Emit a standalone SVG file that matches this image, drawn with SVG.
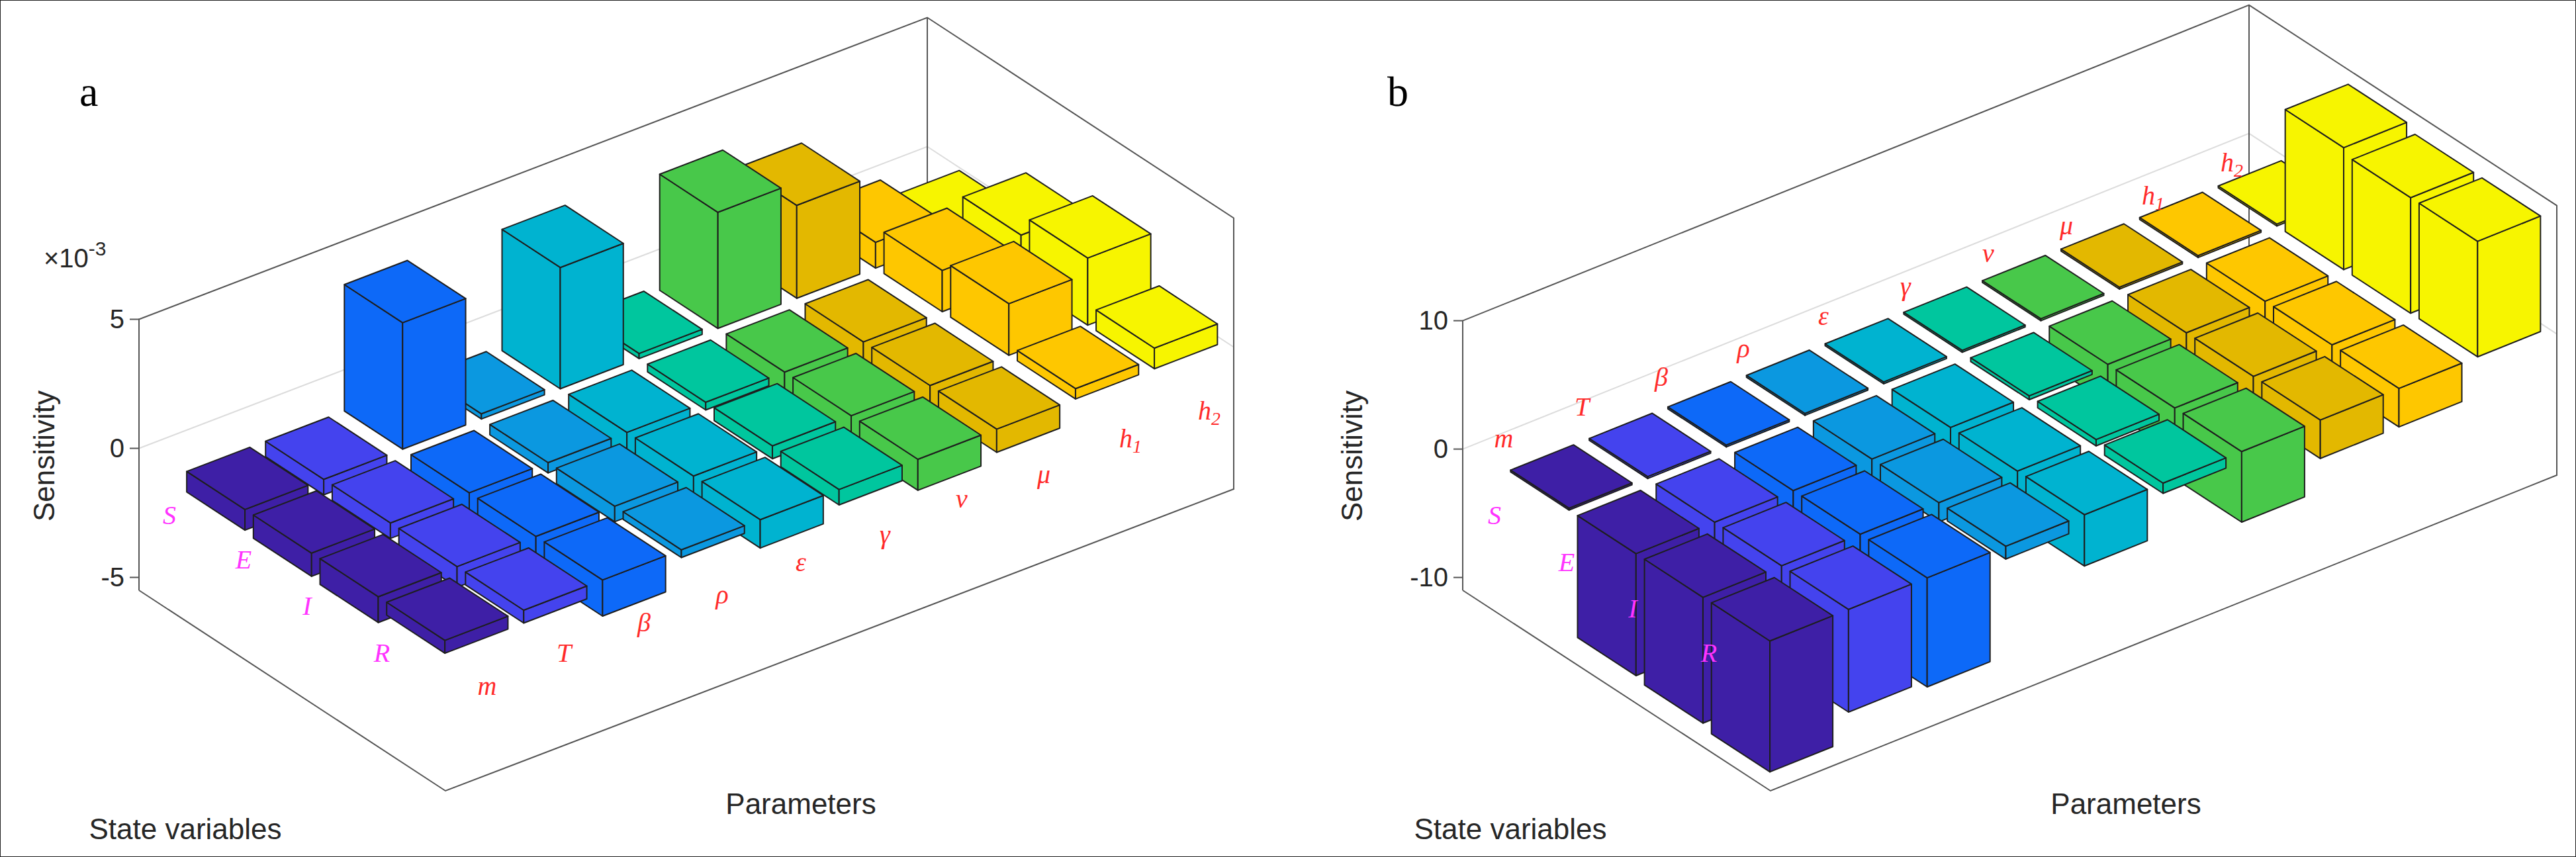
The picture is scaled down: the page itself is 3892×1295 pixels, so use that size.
<svg xmlns="http://www.w3.org/2000/svg" width="3892" height="1295" viewBox="0 0 3892 1295">
<style>
rect{stroke:#1e1e1e;stroke-width:2;vector-effect:non-scaling-stroke;stroke-linejoin:round}
.c0{fill:#3e1fa6}.c1{fill:#4443ee}.c2{fill:#0d69f8}.c3{fill:#0b98e0}.c4{fill:#00b3d0}.c5{fill:#00c69e}.c6{fill:#48c84a}.c7{fill:#e3b800}.c8{fill:#fec700}.c9{fill:#f7f500}
.ax{stroke:#555;stroke-width:2;fill:none}
.gr{stroke:#dcdcdc;stroke-width:2;fill:none}
.tk{font-family:"Liberation Sans",Arial,sans-serif;font-size:40px;fill:#262626}
.lab{font-family:"Liberation Sans",Arial,sans-serif;font-size:44px;fill:#262626}
.pl{font-family:"Liberation Serif","Times New Roman",serif;font-style:italic;font-size:40px;fill:#ff2a2a;text-anchor:middle}
.sl{font-family:"Liberation Serif","Times New Roman",serif;font-style:italic;font-size:40px;fill:#ff33ff;text-anchor:middle}
.pn{font-family:"Liberation Serif","Times New Roman",serif;font-size:64px;fill:#000}
</style>
<rect x="0" y="0" width="3892" height="1295" fill="#fff" stroke="none"/>
<g id="panel-a">
<text class="pn" x="120" y="160">a</text>
<g id="axes-a">
<polyline class="gr" points="210,677.5 1401,221.5 1864,524.5"/>
<polyline class="ax" points="210,892 210,482.5 1401,26.5 1864,329.5 1864,739 673,1195 210,892"/>
<line class="ax" x1="1401" y1="26.5" x2="1401" y2="436"/>
<line class="ax" x1="196" y1="482.5" x2="210" y2="482.5"/><line class="ax" x1="196" y1="677.5" x2="210" y2="677.5"/><line class="ax" x1="196" y1="872.5" x2="210" y2="872.5"/>
<text class="tk" x="188" y="496" text-anchor="end">5</text>
<text class="tk" x="188" y="691" text-anchor="end">0</text>
<text class="tk" x="188" y="886" text-anchor="end">-5</text>
<text class="tk" x="66" y="404">×10<tspan font-size="30" dy="-18">-3</tspan></text>
<text class="lab" transform="translate(82,689) rotate(-90)" text-anchor="middle">Sensitivity</text>
<text class="lab" x="280" y="1268" text-anchor="middle">State variables</text>
<text class="lab" x="1210" y="1230" text-anchor="middle">Parameters</text>
</g>
<g id="bars-a" transform="translate(210,677.5)">
<g class="c9"><rect transform="matrix(115.75,75.75,0,-39,1083.81,-414.96)" x="0.52" y="0" width=".76" height=".2"/><rect transform="matrix(119.1,-45.6,0,-39,148.16,96.96)" x="9.1" y="0" width=".8" height=".2"/><rect transform="matrix(119.1,-45.6,115.75,75.75,0,-7.8)" x="9.1" y="0.52" width=".8" height=".76"/></g>
<g class="c8"><rect transform="matrix(115.75,75.75,0,-39,964.71,-369.36)" x="0.52" y="0" width=".76" height="1"/><rect transform="matrix(119.1,-45.6,0,-39,148.16,96.96)" x="8.1" y="0" width=".8" height="1"/><rect transform="matrix(119.1,-45.6,115.75,75.75,0,-39)" x="8.1" y="0.52" width=".8" height=".76"/></g>
<g class="c9"><rect transform="matrix(115.75,75.75,0,-39,1083.81,-414.96)" x="1.39" y="0" width=".76" height="1.8"/><rect transform="matrix(119.1,-45.6,0,-39,248.86,162.86)" x="9.1" y="0" width=".8" height="1.8"/><rect transform="matrix(119.1,-45.6,115.75,75.75,0,-70.2)" x="9.1" y="1.39" width=".8" height=".76"/></g>
<g class="c7"><rect transform="matrix(115.75,75.75,0,-39,845.61,-323.76)" x="0.52" y="0" width=".76" height="3.6"/><rect transform="matrix(119.1,-45.6,0,-39,148.16,96.96)" x="7.1" y="0" width=".8" height="3.6"/><rect transform="matrix(119.1,-45.6,115.75,75.75,0,-140.4)" x="7.1" y="0.52" width=".8" height=".76"/></g>
<g class="c8"><rect transform="matrix(115.75,75.75,0,-39,964.71,-369.36)" x="1.39" y="0" width=".76" height="1.6"/><rect transform="matrix(119.1,-45.6,0,-39,248.86,162.86)" x="8.1" y="0" width=".8" height="1.6"/><rect transform="matrix(119.1,-45.6,115.75,75.75,0,-62.4)" x="8.1" y="1.39" width=".8" height=".76"/></g>
<g class="c9"><rect transform="matrix(115.75,75.75,0,-39,1083.81,-414.96)" x="2.26" y="0" width=".76" height="2.6"/><rect transform="matrix(119.1,-45.6,0,-39,349.57,228.77)" x="9.1" y="0" width=".8" height="2.6"/><rect transform="matrix(119.1,-45.6,115.75,75.75,0,-101.4)" x="9.1" y="2.26" width=".8" height=".76"/></g>
<g class="c6"><rect transform="matrix(115.75,75.75,0,-39,726.51,-278.16)" x="0.52" y="0" width=".76" height="4.5"/><rect transform="matrix(119.1,-45.6,0,-39,148.16,96.96)" x="6.1" y="0" width=".8" height="4.5"/><rect transform="matrix(119.1,-45.6,115.75,75.75,0,-175.5)" x="6.1" y="0.52" width=".8" height=".76"/></g>
<g class="c7"><rect transform="matrix(115.75,75.75,0,-39,845.61,-323.76)" x="1.39" y="-1.3" width=".76" height="1.3"/><rect transform="matrix(119.1,-45.6,0,-39,248.86,162.86)" x="7.1" y="-1.3" width=".8" height="1.3"/><rect transform="matrix(119.1,-45.6,115.75,75.75,0,0)" x="7.1" y="1.39" width=".8" height=".76"/></g>
<g class="c8"><rect transform="matrix(115.75,75.75,0,-39,964.71,-369.36)" x="2.26" y="0" width=".76" height="2"/><rect transform="matrix(119.1,-45.6,0,-39,349.57,228.77)" x="8.1" y="0" width=".8" height="2"/><rect transform="matrix(119.1,-45.6,115.75,75.75,0,-78)" x="8.1" y="2.26" width=".8" height=".76"/></g>
<g class="c9"><rect transform="matrix(115.75,75.75,0,-39,1083.81,-414.96)" x="3.13" y="0" width=".76" height=".8"/><rect transform="matrix(119.1,-45.6,0,-39,450.27,294.67)" x="9.1" y="0" width=".8" height=".8"/><rect transform="matrix(119.1,-45.6,115.75,75.75,0,-31.2)" x="9.1" y="3.13" width=".8" height=".76"/></g>
<g class="c5"><rect transform="matrix(115.75,75.75,0,-39,607.41,-232.56)" x="0.52" y="0" width=".76" height=".2"/><rect transform="matrix(119.1,-45.6,0,-39,148.16,96.96)" x="5.1" y="0" width=".8" height=".2"/><rect transform="matrix(119.1,-45.6,115.75,75.75,0,-7.8)" x="5.1" y="0.52" width=".8" height=".76"/></g>
<g class="c6"><rect transform="matrix(115.75,75.75,0,-39,726.51,-278.16)" x="1.39" y="-1.4" width=".76" height="1.4"/><rect transform="matrix(119.1,-45.6,0,-39,248.86,162.86)" x="6.1" y="-1.4" width=".8" height="1.4"/><rect transform="matrix(119.1,-45.6,115.75,75.75,0,0)" x="6.1" y="1.39" width=".8" height=".76"/></g>
<g class="c7"><rect transform="matrix(115.75,75.75,0,-39,845.61,-323.76)" x="2.26" y="-1.2" width=".76" height="1.2"/><rect transform="matrix(119.1,-45.6,0,-39,349.57,228.77)" x="7.1" y="-1.2" width=".8" height="1.2"/><rect transform="matrix(119.1,-45.6,115.75,75.75,0,0)" x="7.1" y="2.26" width=".8" height=".76"/></g>
<g class="c8"><rect transform="matrix(115.75,75.75,0,-39,964.71,-369.36)" x="3.13" y="0" width=".76" height=".4"/><rect transform="matrix(119.1,-45.6,0,-39,450.27,294.67)" x="8.1" y="0" width=".8" height=".4"/><rect transform="matrix(119.1,-45.6,115.75,75.75,0,-15.6)" x="8.1" y="3.13" width=".8" height=".76"/></g>
<g class="c4"><rect transform="matrix(115.75,75.75,0,-39,488.31,-186.96)" x="0.52" y="0" width=".76" height="4.7"/><rect transform="matrix(119.1,-45.6,0,-39,148.16,96.96)" x="4.1" y="0" width=".8" height="4.7"/><rect transform="matrix(119.1,-45.6,115.75,75.75,0,-183.3)" x="4.1" y="0.52" width=".8" height=".76"/></g>
<g class="c5"><rect transform="matrix(115.75,75.75,0,-39,607.41,-232.56)" x="1.39" y="-.3" width=".76" height=".3"/><rect transform="matrix(119.1,-45.6,0,-39,248.86,162.86)" x="5.1" y="-.3" width=".8" height=".3"/><rect transform="matrix(119.1,-45.6,115.75,75.75,0,0)" x="5.1" y="1.39" width=".8" height=".76"/></g>
<g class="c6"><rect transform="matrix(115.75,75.75,0,-39,726.51,-278.16)" x="2.26" y="-1.4" width=".76" height="1.4"/><rect transform="matrix(119.1,-45.6,0,-39,349.57,228.77)" x="6.1" y="-1.4" width=".8" height="1.4"/><rect transform="matrix(119.1,-45.6,115.75,75.75,0,0)" x="6.1" y="2.26" width=".8" height=".76"/></g>
<g class="c7"><rect transform="matrix(115.75,75.75,0,-39,845.61,-323.76)" x="3.13" y="-.9" width=".76" height=".9"/><rect transform="matrix(119.1,-45.6,0,-39,450.27,294.67)" x="7.1" y="-.9" width=".8" height=".9"/><rect transform="matrix(119.1,-45.6,115.75,75.75,0,0)" x="7.1" y="3.13" width=".8" height=".76"/></g>
<g class="c3"><rect transform="matrix(115.75,75.75,0,-39,369.21,-141.36)" x="0.52" y="0" width=".76" height=".2"/><rect transform="matrix(119.1,-45.6,0,-39,148.16,96.96)" x="3.1" y="0" width=".8" height=".2"/><rect transform="matrix(119.1,-45.6,115.75,75.75,0,-7.8)" x="3.1" y="0.52" width=".8" height=".76"/></g>
<g class="c4"><rect transform="matrix(115.75,75.75,0,-39,488.31,-186.96)" x="1.39" y="-1.2" width=".76" height="1.2"/><rect transform="matrix(119.1,-45.6,0,-39,248.86,162.86)" x="4.1" y="-1.2" width=".8" height="1.2"/><rect transform="matrix(119.1,-45.6,115.75,75.75,0,0)" x="4.1" y="1.39" width=".8" height=".76"/></g>
<g class="c5"><rect transform="matrix(115.75,75.75,0,-39,607.41,-232.56)" x="2.26" y="-.5" width=".76" height=".5"/><rect transform="matrix(119.1,-45.6,0,-39,349.57,228.77)" x="5.1" y="-.5" width=".8" height=".5"/><rect transform="matrix(119.1,-45.6,115.75,75.75,0,0)" x="5.1" y="2.26" width=".8" height=".76"/></g>
<g class="c6"><rect transform="matrix(115.75,75.75,0,-39,726.51,-278.16)" x="3.13" y="-1.2" width=".76" height="1.2"/><rect transform="matrix(119.1,-45.6,0,-39,450.27,294.67)" x="6.1" y="-1.2" width=".8" height="1.2"/><rect transform="matrix(119.1,-45.6,115.75,75.75,0,0)" x="6.1" y="3.13" width=".8" height=".76"/></g>
<g class="c2"><rect transform="matrix(115.75,75.75,0,-39,250.11,-95.76)" x="0.52" y="0" width=".76" height="4.9"/><rect transform="matrix(119.1,-45.6,0,-39,148.16,96.96)" x="2.1" y="0" width=".8" height="4.9"/><rect transform="matrix(119.1,-45.6,115.75,75.75,0,-191.1)" x="2.1" y="0.52" width=".8" height=".76"/></g>
<g class="c3"><rect transform="matrix(115.75,75.75,0,-39,369.21,-141.36)" x="1.39" y="-.4" width=".76" height=".4"/><rect transform="matrix(119.1,-45.6,0,-39,248.86,162.86)" x="3.1" y="-.4" width=".8" height=".4"/><rect transform="matrix(119.1,-45.6,115.75,75.75,0,0)" x="3.1" y="1.39" width=".8" height=".76"/></g>
<g class="c4"><rect transform="matrix(115.75,75.75,0,-39,488.31,-186.96)" x="2.26" y="-1.4" width=".76" height="1.4"/><rect transform="matrix(119.1,-45.6,0,-39,349.57,228.77)" x="4.1" y="-1.4" width=".8" height="1.4"/><rect transform="matrix(119.1,-45.6,115.75,75.75,0,0)" x="4.1" y="2.26" width=".8" height=".76"/></g>
<g class="c5"><rect transform="matrix(115.75,75.75,0,-39,607.41,-232.56)" x="3.13" y="-.6" width=".76" height=".6"/><rect transform="matrix(119.1,-45.6,0,-39,450.27,294.67)" x="5.1" y="-.6" width=".8" height=".6"/><rect transform="matrix(119.1,-45.6,115.75,75.75,0,0)" x="5.1" y="3.13" width=".8" height=".76"/></g>
<g class="c1"><rect transform="matrix(115.75,75.75,0,-39,131.01,-50.16)" x="0.52" y="-.6" width=".76" height=".6"/><rect transform="matrix(119.1,-45.6,0,-39,148.16,96.96)" x="1.1" y="-.6" width=".8" height=".6"/><rect transform="matrix(119.1,-45.6,115.75,75.75,0,0)" x="1.1" y="0.52" width=".8" height=".76"/></g>
<g class="c2"><rect transform="matrix(115.75,75.75,0,-39,250.11,-95.76)" x="1.39" y="-1.4" width=".76" height="1.4"/><rect transform="matrix(119.1,-45.6,0,-39,248.86,162.86)" x="2.1" y="-1.4" width=".8" height="1.4"/><rect transform="matrix(119.1,-45.6,115.75,75.75,0,0)" x="2.1" y="1.39" width=".8" height=".76"/></g>
<g class="c3"><rect transform="matrix(115.75,75.75,0,-39,369.21,-141.36)" x="2.26" y="-.6" width=".76" height=".6"/><rect transform="matrix(119.1,-45.6,0,-39,349.57,228.77)" x="3.1" y="-.6" width=".8" height=".6"/><rect transform="matrix(119.1,-45.6,115.75,75.75,0,0)" x="3.1" y="2.26" width=".8" height=".76"/></g>
<g class="c4"><rect transform="matrix(115.75,75.75,0,-39,488.31,-186.96)" x="3.13" y="-1.1" width=".76" height="1.1"/><rect transform="matrix(119.1,-45.6,0,-39,450.27,294.67)" x="4.1" y="-1.1" width=".8" height="1.1"/><rect transform="matrix(119.1,-45.6,115.75,75.75,0,0)" x="4.1" y="3.13" width=".8" height=".76"/></g>
<g class="c0"><rect transform="matrix(115.75,75.75,0,-39,11.91,-4.56)" x="0.52" y="-.8" width=".76" height=".8"/><rect transform="matrix(119.1,-45.6,0,-39,148.16,96.96)" x="0.1" y="-.8" width=".8" height=".8"/><rect transform="matrix(119.1,-45.6,115.75,75.75,0,0)" x="0.1" y="0.52" width=".8" height=".76"/></g>
<g class="c1"><rect transform="matrix(115.75,75.75,0,-39,131.01,-50.16)" x="1.39" y="-.6" width=".76" height=".6"/><rect transform="matrix(119.1,-45.6,0,-39,248.86,162.86)" x="1.1" y="-.6" width=".8" height=".6"/><rect transform="matrix(119.1,-45.6,115.75,75.75,0,0)" x="1.1" y="1.39" width=".8" height=".76"/></g>
<g class="c2"><rect transform="matrix(115.75,75.75,0,-39,250.11,-95.76)" x="2.26" y="-1.6" width=".76" height="1.6"/><rect transform="matrix(119.1,-45.6,0,-39,349.57,228.77)" x="2.1" y="-1.6" width=".8" height="1.6"/><rect transform="matrix(119.1,-45.6,115.75,75.75,0,0)" x="2.1" y="2.26" width=".8" height=".76"/></g>
<g class="c3"><rect transform="matrix(115.75,75.75,0,-39,369.21,-141.36)" x="3.13" y="-.3" width=".76" height=".3"/><rect transform="matrix(119.1,-45.6,0,-39,450.27,294.67)" x="3.1" y="-.3" width=".8" height=".3"/><rect transform="matrix(119.1,-45.6,115.75,75.75,0,0)" x="3.1" y="3.13" width=".8" height=".76"/></g>
<g class="c0"><rect transform="matrix(115.75,75.75,0,-39,11.91,-4.56)" x="1.39" y="-.9" width=".76" height=".9"/><rect transform="matrix(119.1,-45.6,0,-39,248.86,162.86)" x="0.1" y="-.9" width=".8" height=".9"/><rect transform="matrix(119.1,-45.6,115.75,75.75,0,0)" x="0.1" y="1.39" width=".8" height=".76"/></g>
<g class="c1"><rect transform="matrix(115.75,75.75,0,-39,131.01,-50.16)" x="2.26" y="-.8" width=".76" height=".8"/><rect transform="matrix(119.1,-45.6,0,-39,349.57,228.77)" x="1.1" y="-.8" width=".8" height=".8"/><rect transform="matrix(119.1,-45.6,115.75,75.75,0,0)" x="1.1" y="2.26" width=".8" height=".76"/></g>
<g class="c2"><rect transform="matrix(115.75,75.75,0,-39,250.11,-95.76)" x="3.13" y="-1.4" width=".76" height="1.4"/><rect transform="matrix(119.1,-45.6,0,-39,450.27,294.67)" x="2.1" y="-1.4" width=".8" height="1.4"/><rect transform="matrix(119.1,-45.6,115.75,75.75,0,0)" x="2.1" y="3.13" width=".8" height=".76"/></g>
<g class="c0"><rect transform="matrix(115.75,75.75,0,-39,11.91,-4.56)" x="2.26" y="-1" width=".76" height="1"/><rect transform="matrix(119.1,-45.6,0,-39,349.57,228.77)" x="0.1" y="-1" width=".8" height="1"/><rect transform="matrix(119.1,-45.6,115.75,75.75,0,0)" x="0.1" y="2.26" width=".8" height=".76"/></g>
<g class="c1"><rect transform="matrix(115.75,75.75,0,-39,131.01,-50.16)" x="3.13" y="-.5" width=".76" height=".5"/><rect transform="matrix(119.1,-45.6,0,-39,450.27,294.67)" x="1.1" y="-.5" width=".8" height=".5"/><rect transform="matrix(119.1,-45.6,115.75,75.75,0,0)" x="1.1" y="3.13" width=".8" height=".76"/></g>
<g class="c0"><rect transform="matrix(115.75,75.75,0,-39,11.91,-4.56)" x="3.13" y="-.5" width=".76" height=".5"/><rect transform="matrix(119.1,-45.6,0,-39,450.27,294.67)" x="0.1" y="-.5" width=".8" height=".5"/><rect transform="matrix(119.1,-45.6,115.75,75.75,0,0)" x="0.1" y="3.13" width=".8" height=".76"/></g>
</g>
<g id="labels-a">
<text class="sl" x="256" y="792">S</text><text class="sl" x="368" y="859">E</text><text class="sl" x="464" y="929">I</text><text class="sl" x="577" y="1000">R</text>
<text class="pl" x="736" y="1050">m</text><text class="pl" x="852" y="1000">T</text><text class="pl" x="973" y="954">β</text><text class="pl" x="1091" y="912">ρ</text><text class="pl" x="1210" y="863">ε</text><text class="pl" x="1337" y="821">γ</text><text class="pl" x="1453" y="767">ν</text><text class="pl" x="1577" y="730">μ</text><text class="pl" x="1708" y="676">h<tspan font-size="28" dy="8">1</tspan></text><text class="pl" x="1827" y="634">h<tspan font-size="28" dy="8">2</tspan></text>
</g>
</g>
<g id="panel-b">
<text class="pn" x="2096" y="160">b</text>
<g id="axes-b">
<polyline class="gr" points="2210,678.6 3398,201.6 3863,504.6"/>
<polyline class="ax" points="2210,892 2210,484.6 3398,7.6 3863,310.6 3863,718 2675,1195 2210,892"/>
<line class="ax" x1="3398" y1="7.6" x2="3398" y2="415"/>
<line class="ax" x1="2196" y1="484.6" x2="2210" y2="484.6"/><line class="ax" x1="2196" y1="678.6" x2="2210" y2="678.6"/><line class="ax" x1="2196" y1="872.6" x2="2210" y2="872.6"/>
<text class="tk" x="2188" y="498" text-anchor="end">10</text>
<text class="tk" x="2188" y="692" text-anchor="end">0</text>
<text class="tk" x="2188" y="886" text-anchor="end">-10</text>
<text class="lab" transform="translate(2058,689) rotate(-90)" text-anchor="middle">Sensitivity</text>
<text class="lab" x="2282" y="1268" text-anchor="middle">State variables</text>
<text class="lab" x="3212" y="1230" text-anchor="middle">Parameters</text>
</g>
<g id="bars-b" transform="translate(2210,678.6)">
<g class="c9"><rect transform="matrix(116.25,75.75,0,-19.4,1081.08,-434.07)" x="0.52" y="0" width=".76" height=".15"/><rect transform="matrix(118.8,-47.7,0,-19.4,148.8,96.96)" x="9.1" y="0" width=".8" height=".15"/><rect transform="matrix(118.8,-47.7,116.25,75.75,0,-2.91)" x="9.1" y="0.52" width=".8" height=".76"/></g>
<g class="c8"><rect transform="matrix(116.25,75.75,0,-19.4,962.28,-386.37)" x="0.52" y="0" width=".76" height=".15"/><rect transform="matrix(118.8,-47.7,0,-19.4,148.8,96.96)" x="8.1" y="0" width=".8" height=".15"/><rect transform="matrix(118.8,-47.7,116.25,75.75,0,-2.91)" x="8.1" y="0.52" width=".8" height=".76"/></g>
<g class="c9"><rect transform="matrix(116.25,75.75,0,-19.4,1081.08,-434.07)" x="1.39" y="0" width=".76" height="9.5"/><rect transform="matrix(118.8,-47.7,0,-19.4,249.94,162.86)" x="9.1" y="0" width=".8" height="9.5"/><rect transform="matrix(118.8,-47.7,116.25,75.75,0,-184.3)" x="9.1" y="1.39" width=".8" height=".76"/></g>
<g class="c7"><rect transform="matrix(116.25,75.75,0,-19.4,843.48,-338.67)" x="0.52" y="0" width=".76" height=".15"/><rect transform="matrix(118.8,-47.7,0,-19.4,148.8,96.96)" x="7.1" y="0" width=".8" height=".15"/><rect transform="matrix(118.8,-47.7,116.25,75.75,0,-2.91)" x="7.1" y="0.52" width=".8" height=".76"/></g>
<g class="c8"><rect transform="matrix(116.25,75.75,0,-19.4,962.28,-386.37)" x="1.39" y="-3" width=".76" height="3"/><rect transform="matrix(118.8,-47.7,0,-19.4,249.94,162.86)" x="8.1" y="-3" width=".8" height="3"/><rect transform="matrix(118.8,-47.7,116.25,75.75,0,0)" x="8.1" y="1.39" width=".8" height=".76"/></g>
<g class="c9"><rect transform="matrix(116.25,75.75,0,-19.4,1081.08,-434.07)" x="2.26" y="0" width=".76" height="9"/><rect transform="matrix(118.8,-47.7,0,-19.4,351.08,228.77)" x="9.1" y="0" width=".8" height="9"/><rect transform="matrix(118.8,-47.7,116.25,75.75,0,-174.6)" x="9.1" y="2.26" width=".8" height=".76"/></g>
<g class="c6"><rect transform="matrix(116.25,75.75,0,-19.4,724.68,-290.97)" x="0.52" y="0" width=".76" height=".15"/><rect transform="matrix(118.8,-47.7,0,-19.4,148.8,96.96)" x="6.1" y="0" width=".8" height=".15"/><rect transform="matrix(118.8,-47.7,116.25,75.75,0,-2.91)" x="6.1" y="0.52" width=".8" height=".76"/></g>
<g class="c7"><rect transform="matrix(116.25,75.75,0,-19.4,843.48,-338.67)" x="1.39" y="-3" width=".76" height="3"/><rect transform="matrix(118.8,-47.7,0,-19.4,249.94,162.86)" x="7.1" y="-3" width=".8" height="3"/><rect transform="matrix(118.8,-47.7,116.25,75.75,0,0)" x="7.1" y="1.39" width=".8" height=".76"/></g>
<g class="c8"><rect transform="matrix(116.25,75.75,0,-19.4,962.28,-386.37)" x="2.26" y="-3" width=".76" height="3"/><rect transform="matrix(118.8,-47.7,0,-19.4,351.08,228.77)" x="8.1" y="-3" width=".8" height="3"/><rect transform="matrix(118.8,-47.7,116.25,75.75,0,0)" x="8.1" y="2.26" width=".8" height=".76"/></g>
<g class="c9"><rect transform="matrix(116.25,75.75,0,-19.4,1081.08,-434.07)" x="3.13" y="0" width=".76" height="9"/><rect transform="matrix(118.8,-47.7,0,-19.4,452.21,294.67)" x="9.1" y="0" width=".8" height="9"/><rect transform="matrix(118.8,-47.7,116.25,75.75,0,-174.6)" x="9.1" y="3.13" width=".8" height=".76"/></g>
<g class="c5"><rect transform="matrix(116.25,75.75,0,-19.4,605.88,-243.27)" x="0.52" y="0" width=".76" height=".15"/><rect transform="matrix(118.8,-47.7,0,-19.4,148.8,96.96)" x="5.1" y="0" width=".8" height=".15"/><rect transform="matrix(118.8,-47.7,116.25,75.75,0,-2.91)" x="5.1" y="0.52" width=".8" height=".76"/></g>
<g class="c6"><rect transform="matrix(116.25,75.75,0,-19.4,724.68,-290.97)" x="1.39" y="-3" width=".76" height="3"/><rect transform="matrix(118.8,-47.7,0,-19.4,249.94,162.86)" x="6.1" y="-3" width=".8" height="3"/><rect transform="matrix(118.8,-47.7,116.25,75.75,0,0)" x="6.1" y="1.39" width=".8" height=".76"/></g>
<g class="c7"><rect transform="matrix(116.25,75.75,0,-19.4,843.48,-338.67)" x="2.26" y="-3" width=".76" height="3"/><rect transform="matrix(118.8,-47.7,0,-19.4,351.08,228.77)" x="7.1" y="-3" width=".8" height="3"/><rect transform="matrix(118.8,-47.7,116.25,75.75,0,0)" x="7.1" y="2.26" width=".8" height=".76"/></g>
<g class="c8"><rect transform="matrix(116.25,75.75,0,-19.4,962.28,-386.37)" x="3.13" y="-3" width=".76" height="3"/><rect transform="matrix(118.8,-47.7,0,-19.4,452.21,294.67)" x="8.1" y="-3" width=".8" height="3"/><rect transform="matrix(118.8,-47.7,116.25,75.75,0,0)" x="8.1" y="3.13" width=".8" height=".76"/></g>
<g class="c4"><rect transform="matrix(116.25,75.75,0,-19.4,487.08,-195.57)" x="0.52" y="0" width=".76" height=".15"/><rect transform="matrix(118.8,-47.7,0,-19.4,148.8,96.96)" x="4.1" y="0" width=".8" height=".15"/><rect transform="matrix(118.8,-47.7,116.25,75.75,0,-2.91)" x="4.1" y="0.52" width=".8" height=".76"/></g>
<g class="c5"><rect transform="matrix(116.25,75.75,0,-19.4,605.88,-243.27)" x="1.39" y="-.3" width=".76" height=".3"/><rect transform="matrix(118.8,-47.7,0,-19.4,249.94,162.86)" x="5.1" y="-.3" width=".8" height=".3"/><rect transform="matrix(118.8,-47.7,116.25,75.75,0,0)" x="5.1" y="1.39" width=".8" height=".76"/></g>
<g class="c6"><rect transform="matrix(116.25,75.75,0,-19.4,724.68,-290.97)" x="2.26" y="-3.5" width=".76" height="3.5"/><rect transform="matrix(118.8,-47.7,0,-19.4,351.08,228.77)" x="6.1" y="-3.5" width=".8" height="3.5"/><rect transform="matrix(118.8,-47.7,116.25,75.75,0,0)" x="6.1" y="2.26" width=".8" height=".76"/></g>
<g class="c7"><rect transform="matrix(116.25,75.75,0,-19.4,843.48,-338.67)" x="3.13" y="-3" width=".76" height="3"/><rect transform="matrix(118.8,-47.7,0,-19.4,452.21,294.67)" x="7.1" y="-3" width=".8" height="3"/><rect transform="matrix(118.8,-47.7,116.25,75.75,0,0)" x="7.1" y="3.13" width=".8" height=".76"/></g>
<g class="c3"><rect transform="matrix(116.25,75.75,0,-19.4,368.28,-147.87)" x="0.52" y="0" width=".76" height=".15"/><rect transform="matrix(118.8,-47.7,0,-19.4,148.8,96.96)" x="3.1" y="0" width=".8" height=".15"/><rect transform="matrix(118.8,-47.7,116.25,75.75,0,-2.91)" x="3.1" y="0.52" width=".8" height=".76"/></g>
<g class="c4"><rect transform="matrix(116.25,75.75,0,-19.4,487.08,-195.57)" x="1.39" y="-3" width=".76" height="3"/><rect transform="matrix(118.8,-47.7,0,-19.4,249.94,162.86)" x="4.1" y="-3" width=".8" height="3"/><rect transform="matrix(118.8,-47.7,116.25,75.75,0,0)" x="4.1" y="1.39" width=".8" height=".76"/></g>
<g class="c5"><rect transform="matrix(116.25,75.75,0,-19.4,605.88,-243.27)" x="2.26" y="-.5" width=".76" height=".5"/><rect transform="matrix(118.8,-47.7,0,-19.4,351.08,228.77)" x="5.1" y="-.5" width=".8" height=".5"/><rect transform="matrix(118.8,-47.7,116.25,75.75,0,0)" x="5.1" y="2.26" width=".8" height=".76"/></g>
<g class="c6"><rect transform="matrix(116.25,75.75,0,-19.4,724.68,-290.97)" x="3.13" y="-5.5" width=".76" height="5.5"/><rect transform="matrix(118.8,-47.7,0,-19.4,452.21,294.67)" x="6.1" y="-5.5" width=".8" height="5.5"/><rect transform="matrix(118.8,-47.7,116.25,75.75,0,0)" x="6.1" y="3.13" width=".8" height=".76"/></g>
<g class="c2"><rect transform="matrix(116.25,75.75,0,-19.4,249.48,-100.17)" x="0.52" y="0" width=".76" height=".15"/><rect transform="matrix(118.8,-47.7,0,-19.4,148.8,96.96)" x="2.1" y="0" width=".8" height=".15"/><rect transform="matrix(118.8,-47.7,116.25,75.75,0,-2.91)" x="2.1" y="0.52" width=".8" height=".76"/></g>
<g class="c3"><rect transform="matrix(116.25,75.75,0,-19.4,368.28,-147.87)" x="1.39" y="-2" width=".76" height="2"/><rect transform="matrix(118.8,-47.7,0,-19.4,249.94,162.86)" x="3.1" y="-2" width=".8" height="2"/><rect transform="matrix(118.8,-47.7,116.25,75.75,0,0)" x="3.1" y="1.39" width=".8" height=".76"/></g>
<g class="c4"><rect transform="matrix(116.25,75.75,0,-19.4,487.08,-195.57)" x="2.26" y="-3" width=".76" height="3"/><rect transform="matrix(118.8,-47.7,0,-19.4,351.08,228.77)" x="4.1" y="-3" width=".8" height="3"/><rect transform="matrix(118.8,-47.7,116.25,75.75,0,0)" x="4.1" y="2.26" width=".8" height=".76"/></g>
<g class="c5"><rect transform="matrix(116.25,75.75,0,-19.4,605.88,-243.27)" x="3.13" y="-.8" width=".76" height=".8"/><rect transform="matrix(118.8,-47.7,0,-19.4,452.21,294.67)" x="5.1" y="-.8" width=".8" height=".8"/><rect transform="matrix(118.8,-47.7,116.25,75.75,0,0)" x="5.1" y="3.13" width=".8" height=".76"/></g>
<g class="c1"><rect transform="matrix(116.25,75.75,0,-19.4,130.68,-52.47)" x="0.52" y="0" width=".76" height=".15"/><rect transform="matrix(118.8,-47.7,0,-19.4,148.8,96.96)" x="1.1" y="0" width=".8" height=".15"/><rect transform="matrix(118.8,-47.7,116.25,75.75,0,-2.91)" x="1.1" y="0.52" width=".8" height=".76"/></g>
<g class="c2"><rect transform="matrix(116.25,75.75,0,-19.4,249.48,-100.17)" x="1.39" y="-3" width=".76" height="3"/><rect transform="matrix(118.8,-47.7,0,-19.4,249.94,162.86)" x="2.1" y="-3" width=".8" height="3"/><rect transform="matrix(118.8,-47.7,116.25,75.75,0,0)" x="2.1" y="1.39" width=".8" height=".76"/></g>
<g class="c3"><rect transform="matrix(116.25,75.75,0,-19.4,368.28,-147.87)" x="2.26" y="-1.5" width=".76" height="1.5"/><rect transform="matrix(118.8,-47.7,0,-19.4,351.08,228.77)" x="3.1" y="-1.5" width=".8" height="1.5"/><rect transform="matrix(118.8,-47.7,116.25,75.75,0,0)" x="3.1" y="2.26" width=".8" height=".76"/></g>
<g class="c4"><rect transform="matrix(116.25,75.75,0,-19.4,487.08,-195.57)" x="3.13" y="-4" width=".76" height="4"/><rect transform="matrix(118.8,-47.7,0,-19.4,452.21,294.67)" x="4.1" y="-4" width=".8" height="4"/><rect transform="matrix(118.8,-47.7,116.25,75.75,0,0)" x="4.1" y="3.13" width=".8" height=".76"/></g>
<g class="c0"><rect transform="matrix(116.25,75.75,0,-19.4,11.88,-4.77)" x="0.52" y="0" width=".76" height=".15"/><rect transform="matrix(118.8,-47.7,0,-19.4,148.8,96.96)" x="0.1" y="0" width=".8" height=".15"/><rect transform="matrix(118.8,-47.7,116.25,75.75,0,-2.91)" x="0.1" y="0.52" width=".8" height=".76"/></g>
<g class="c1"><rect transform="matrix(116.25,75.75,0,-19.4,130.68,-52.47)" x="1.39" y="-6" width=".76" height="6"/><rect transform="matrix(118.8,-47.7,0,-19.4,249.94,162.86)" x="1.1" y="-6" width=".8" height="6"/><rect transform="matrix(118.8,-47.7,116.25,75.75,0,0)" x="1.1" y="1.39" width=".8" height=".76"/></g>
<g class="c2"><rect transform="matrix(116.25,75.75,0,-19.4,249.48,-100.17)" x="2.26" y="-4" width=".76" height="4"/><rect transform="matrix(118.8,-47.7,0,-19.4,351.08,228.77)" x="2.1" y="-4" width=".8" height="4"/><rect transform="matrix(118.8,-47.7,116.25,75.75,0,0)" x="2.1" y="2.26" width=".8" height=".76"/></g>
<g class="c3"><rect transform="matrix(116.25,75.75,0,-19.4,368.28,-147.87)" x="3.13" y="-1" width=".76" height="1"/><rect transform="matrix(118.8,-47.7,0,-19.4,452.21,294.67)" x="3.1" y="-1" width=".8" height="1"/><rect transform="matrix(118.8,-47.7,116.25,75.75,0,0)" x="3.1" y="3.13" width=".8" height=".76"/></g>
<g class="c0"><rect transform="matrix(116.25,75.75,0,-19.4,11.88,-4.77)" x="1.39" y="-9.5" width=".76" height="9.5"/><rect transform="matrix(118.8,-47.7,0,-19.4,249.94,162.86)" x="0.1" y="-9.5" width=".8" height="9.5"/><rect transform="matrix(118.8,-47.7,116.25,75.75,0,0)" x="0.1" y="1.39" width=".8" height=".76"/></g>
<g class="c1"><rect transform="matrix(116.25,75.75,0,-19.4,130.68,-52.47)" x="2.26" y="-7" width=".76" height="7"/><rect transform="matrix(118.8,-47.7,0,-19.4,351.08,228.77)" x="1.1" y="-7" width=".8" height="7"/><rect transform="matrix(118.8,-47.7,116.25,75.75,0,0)" x="1.1" y="2.26" width=".8" height=".76"/></g>
<g class="c2"><rect transform="matrix(116.25,75.75,0,-19.4,249.48,-100.17)" x="3.13" y="-8.5" width=".76" height="8.5"/><rect transform="matrix(118.8,-47.7,0,-19.4,452.21,294.67)" x="2.1" y="-8.5" width=".8" height="8.5"/><rect transform="matrix(118.8,-47.7,116.25,75.75,0,0)" x="2.1" y="3.13" width=".8" height=".76"/></g>
<g class="c0"><rect transform="matrix(116.25,75.75,0,-19.4,11.88,-4.77)" x="2.26" y="-9.8" width=".76" height="9.8"/><rect transform="matrix(118.8,-47.7,0,-19.4,351.08,228.77)" x="0.1" y="-9.8" width=".8" height="9.8"/><rect transform="matrix(118.8,-47.7,116.25,75.75,0,0)" x="0.1" y="2.26" width=".8" height=".76"/></g>
<g class="c1"><rect transform="matrix(116.25,75.75,0,-19.4,130.68,-52.47)" x="3.13" y="-8" width=".76" height="8"/><rect transform="matrix(118.8,-47.7,0,-19.4,452.21,294.67)" x="1.1" y="-8" width=".8" height="8"/><rect transform="matrix(118.8,-47.7,116.25,75.75,0,0)" x="1.1" y="3.13" width=".8" height=".76"/></g>
<g class="c0"><rect transform="matrix(116.25,75.75,0,-19.4,11.88,-4.77)" x="3.13" y="-10.2" width=".76" height="10.2"/><rect transform="matrix(118.8,-47.7,0,-19.4,452.21,294.67)" x="0.1" y="-10.2" width=".8" height="10.2"/><rect transform="matrix(118.8,-47.7,116.25,75.75,0,0)" x="0.1" y="3.13" width=".8" height=".76"/></g>
</g>
<g id="labels-b">
<text class="pl" x="2272" y="676">m</text><text class="pl" x="2390" y="628">T</text><text class="pl" x="2510" y="583">β</text><text class="pl" x="2634" y="540">ρ</text><text class="pl" x="2755" y="491">ε</text><text class="pl" x="2879" y="446">γ</text><text class="pl" x="3004" y="396">ν</text><text class="pl" x="3122" y="354">μ</text><text class="pl" x="3253" y="309">h<tspan font-size="28" dy="8">1</tspan></text><text class="pl" x="3372" y="259">h<tspan font-size="28" dy="8">2</tspan></text>
<text class="sl" x="2258" y="792">S</text><text class="sl" x="2367" y="863">E</text><text class="sl" x="2467" y="933">I</text><text class="sl" x="2582" y="1000">R</text>
</g>
</g>
</svg>
